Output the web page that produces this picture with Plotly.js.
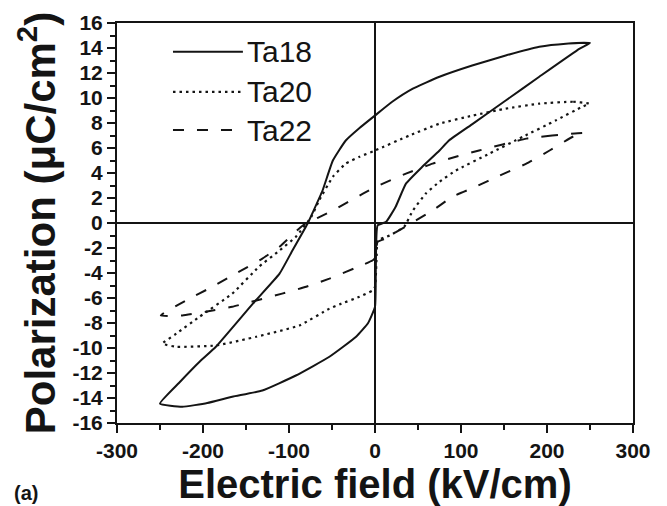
<!DOCTYPE html>
<html>
<head>
<meta charset="utf-8">
<script src="https://cdn.plot.ly/plotly-3.0.1.min.js"></script>
<style>html,body{margin:0;padding:0;background:#fff;}#chart{width:667px;height:506px;}</style>
</head>
<body>
<div id="chart"></div>
<script>
// Ta18 loop (solid): upper branch (field decreasing) then lower branch (field increasing)
const ta18X = [250, 222, 191, 152, 113, 75, 44, 20, 0, -18, -34, -49, -61, -73, -78, -96, -111, -142, -185, -204, -228, -250,
               -224, -195, -166, -131, -92, -53, -22, -8, 0, 1, 3, 13, 24, 36, 55, 75, 86, 114, 152, 191, 238, 250];
const ta18Y = [14.4, 14.35, 14.1, 13.4, 12.6, 11.7, 10.75, 9.7, 8.6, 7.6, 6.6, 5.0, 2.6, 0.75, 0.0, -2.2, -4.05, -6.45, -9.9, -11.1, -12.8, -14.45,
               -14.7, -14.4, -13.9, -13.4, -12.2, -10.7, -9.1, -8.0, -6.7, -3.5, -0.2, 0.1, 1.3, 3.15, 4.5, 5.8, 6.6, 7.95, 9.8, 11.7, 13.95, 14.4];

// Ta20 loop (dotted)
const ta20X = [249, 230, 191, 152, 114, 75, 40, 0, -18, -34, -49, -65, -74, -92, -111, -135, -166, -204, -231, -247,
               -231, -185, -138, -88, -53, -41, -18, -3, 0, 2, 3, 17, 34, 44, 59, 75, 94, 133, 172, 210, 241, 249];
const ta20Y = [9.55, 9.7, 9.55, 9.15, 8.6, 7.95, 7.0, 5.8, 5.3, 4.75, 3.7, 1.8, 0.5, -1.1, -2.2, -3.5, -5.65, -7.5, -8.85, -9.65,
               -9.9, -9.8, -9.1, -8.2, -6.85, -6.5, -5.9, -5.4, -5.1, -2.5, -1.4, -1.0, -0.3, 1.0, 2.35, 3.3, 4.2, 5.55, 6.9, 8.2, 9.3, 9.55];

// Ta22 loop (dashed)
const ta22X = [243, 206, 176, 121, 94, 67, 36, 1, -14, -49, -84, -111, -131, -162, -189, -220, -249,
               -224, -197, -166, -138, -108, -80, -53, -16, -3, 0, 3, 10, 67, 90, 117, 145, 176, 203, 230, 243];
const ta22Y = [7.2, 7.0, 6.75, 5.8, 5.3, 4.75, 3.95, 2.9, 2.35, 1.0, -0.2, -1.9, -2.85, -4.05, -5.1, -6.2, -7.4,
               -7.4, -7.1, -6.7, -6.2, -5.65, -5.1, -4.45, -3.4, -3.0, -2.8, -1.5, -1.3, 1.0, 2.1, 2.9, 3.8, 4.75, 5.8, 6.9, 7.2];

const seriesNames = ['Ta18', 'Ta20', 'Ta22'];

const xTickVals = [-300, -200, -100, 0, 100, 200, 300];
const xTickText = ['-300', '-200', '-100', '0', '100', '200', '300'];
const yTickVals = [-16, -14, -12, -10, -8, -6, -4, -2, 0, 2, 4, 6, 8, 10, 12, 14, 16];
const yTickText = ['-16', '-14', '-12', '-10', '-8', '-6', '-4', '-2', '0', '2', '4', '6', '8', '10', '12', '14', '16'];

const FONT = '"Liberation Sans", Arial, Helvetica, sans-serif';
const INK = '#141414';
const dashes = ['solid', '2.5px,4px', '11px,13px'];

const traces = [
  {x: ta18X, y: ta18Y, name: seriesNames[0], mode: 'lines', line: {color: INK, width: 2, dash: dashes[0], shape: 'spline', smoothing: 0.4}},
  {x: ta20X, y: ta20Y, name: seriesNames[1], mode: 'lines', line: {color: INK, width: 2.2, dash: dashes[1], shape: 'spline', smoothing: 0.4}},
  {x: ta22X, y: ta22Y, name: seriesNames[2], mode: 'lines', line: {color: INK, width: 2, dash: dashes[2], shape: 'spline', smoothing: 0.4}}
];

// manual legend (long sample lines as in the original)
const legY = [0.928, 0.828, 0.7325];
const shapes = [];
const annotations = [];
for (let i = 0; i < 3; i++) {
  shapes.push({type: 'line', xref: 'paper', yref: 'paper', x0: 0.1085, x1: 0.244, y0: legY[i], y1: legY[i],
               line: {color: INK, width: i === 1 ? 2.2 : 2, dash: dashes[i]}});
  annotations.push({xref: 'paper', yref: 'paper', x: 0.248, y: legY[i], xanchor: 'left', yanchor: 'middle',
                    text: seriesNames[i], showarrow: false, font: {family: FONT, size: 30, color: INK}});
}
annotations.push({xref: 'paper', yref: 'paper', x: -0.2035, y: -0.175, xanchor: 'left', yanchor: 'middle',
                  text: '(a)', showarrow: false, font: {family: FONT, size: 20, color: INK, weight: 'bold'}});

const axisCommon = {
  showgrid: false, showline: true, linecolor: INK, linewidth: 2, mirror: true,
  zeroline: true, zerolinecolor: INK, zerolinewidth: 2,
  ticks: 'outside', ticklen: 8, tickwidth: 2, tickcolor: INK,
  tickfont: {family: FONT, size: 21, color: INK, weight: 'bold'},
  tickmode: 'array'
};

const layout = {
  width: 667, height: 506,
  margin: {l: 117, r: 34, t: 23, b: 83},
  paper_bgcolor: '#fff', plot_bgcolor: '#fff',
  showlegend: false,
  xaxis: Object.assign({}, axisCommon, {
    range: [-300, 300], tickvals: xTickVals, ticktext: xTickText,
    minor: {ticks: 'outside', tickvals: [-250, -150, -50, 50, 150, 250], ticklen: 5, tickwidth: 2, tickcolor: INK},
    title: {text: 'Electric field (kV/cm)', standoff: 5, font: {family: FONT, size: 40, color: INK, weight: 'bold'}}
  }),
  yaxis: Object.assign({}, axisCommon, {
    range: [-16, 16], tickvals: yTickVals, ticktext: yTickText,
    minor: {ticks: 'outside', dtick: 1, ticklen: 5, tickwidth: 2, tickcolor: INK},
    title: {text: 'Polarization (μC/cm<sup>2</sup>)', standoff: 4, font: {family: FONT, size: 42, color: INK, weight: 'bold'}}
  }),
  shapes: shapes,
  annotations: annotations
};

Plotly.newPlot('chart', traces, layout, {staticPlot: true, displayModeBar: false});
</script>
</body>
</html>
